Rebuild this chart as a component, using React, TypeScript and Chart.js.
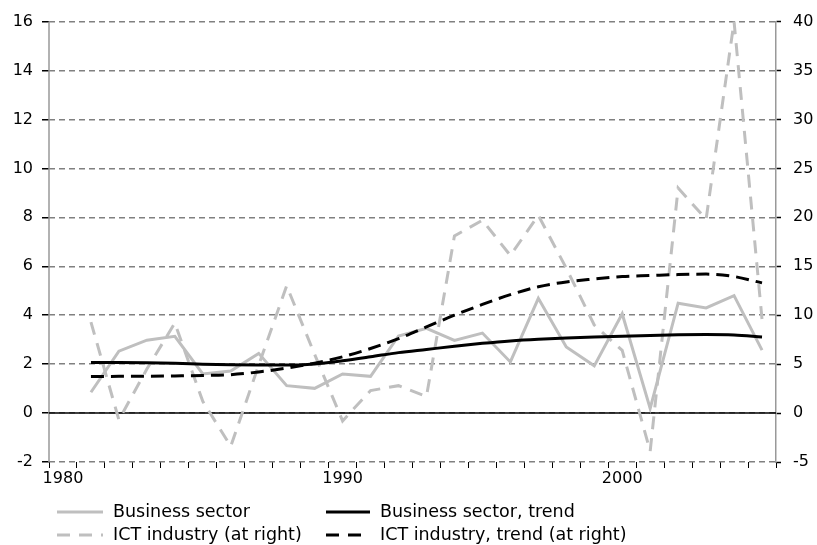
import React, { useEffect, useRef } from "react";
import { Chart, registerables } from "chart.js";

Chart.register(...registerables);

const years: string[] = [
  "1980","1981","1982","1983","1984","1985","1986","1987","1988","1989",
  "1990","1991","1992","1993","1994","1995","1996","1997","1998","1999",
  "2000","2001","2002","2003","2004","2005",
];

const businessSector: (number | null)[] = [
  null, 0.85, 2.53, 2.98, 3.14, 1.6, 1.72, 2.44, 1.12, 1.01,
  1.6, 1.5, 3.15, 3.46, 2.97, 3.27, 2.09, 4.69, 2.7, 1.93,
  4.06, 0.19, 4.49, 4.3, 4.8, 2.57,
];

const businessTrend: (number | null)[] = [
  null, 2.07, 2.07, 2.06, 2.04, 2.0, 1.97, 1.96, 1.96, 2.01,
  2.14, 2.3, 2.47, 2.6, 2.73, 2.85, 2.95, 3.02, 3.07, 3.11,
  3.14, 3.17, 3.2, 3.21, 3.19, 3.11,
];

const ictIndustry: (number | null)[] = [
  null, 9.3, -0.7, 4.5, 9.2, 1.2, -3.4, 4.9, 13.0, 6.0,
  -0.8, 2.3, 2.8, 1.7, 18.1, 19.7, 16.1, 20.2, 14.8, 9.0,
  6.4, -3.9, 23.0, 19.8, 40.0, 9.6,
];

const ictTrend: (number | null)[] = [
  null, 3.74, 3.75, 3.77, 3.8, 3.84, 3.92, 4.2, 4.6, 5.1,
  5.75, 6.6, 7.6, 8.8, 10.0, 11.1, 12.1, 12.9, 13.4, 13.7,
  13.95, 14.05, 14.15, 14.2, 13.95, 13.3,
];

const seriesLabels = [
  "Business sector",
  "Business sector, trend",
  "ICT industry (at right)",
  "ICT industry, trend (at right)",
];

const GRAY = "#BFBFBF";
const FONT = '"DejaVu Sans", Verdana, sans-serif';

export default function App() {
  const ref = useRef<HTMLCanvasElement | null>(null);

  useEffect(() => {
    if (!ref.current) return;

    const axisLines = {
      id: "axisLines",
      beforeDatasetsDraw(chart: any) {
        const { ctx, chartArea } = chart;
        const y = chart.scales.y.getPixelForValue(0);
        ctx.save();
        ctx.setLineDash([]);
        // left axis line (solid gray)
        ctx.strokeStyle = "#999";
        ctx.lineWidth = 1.5;
        ctx.beginPath();
        ctx.moveTo(chartArea.left, chartArea.top);
        ctx.lineTo(chartArea.left, chartArea.bottom);
        ctx.stroke();
        // zero line
        ctx.strokeStyle = "#000";
        ctx.lineWidth = 1.5;
        ctx.beginPath();
        ctx.moveTo(chartArea.left, y);
        ctx.lineTo(chartArea.right, y);
        ctx.stroke();
        ctx.restore();
      },
    };

    const customLegend = {
      id: "customLegend",
      afterDraw(chart: any) {
        const { ctx } = chart;
        const items = [
          { x1: 57, x2: 103, tx: 113, y: 512, color: GRAY, dash: [] as number[] },
          { x1: 326, x2: 370, tx: 380, y: 512, color: "#000", dash: [] as number[] },
          { x1: 57, x2: 103, tx: 113, y: 535, color: GRAY, dash: [13, 9] },
          { x1: 326, x2: 370, tx: 380, y: 535, color: "#000", dash: [13, 9] },
        ];
        ctx.save();
        items.forEach((it, i) => {
          ctx.strokeStyle = it.color;
          ctx.lineWidth = 3;
          ctx.setLineDash(it.dash);
          ctx.beginPath();
          ctx.moveTo(it.x1, it.y);
          ctx.lineTo(it.x2, it.y);
          ctx.stroke();
          ctx.setLineDash([]);
          ctx.fillStyle = "#000";
          ctx.font = `17.5px ${FONT}`;
          ctx.textBaseline = "middle";
          ctx.textAlign = "left";
          ctx.fillText(seriesLabels[i], it.tx, it.y);
        });
        ctx.restore();
      },
    };

    const chart = new Chart(ref.current, {
      type: "line",
      data: {
        labels: years,
        datasets: [
          {
            label: seriesLabels[0],
            data: businessSector,
            borderColor: GRAY,
            borderWidth: 3,
            pointRadius: 0,
            yAxisID: "y",
            order: 2,
          },
          {
            label: seriesLabels[1],
            data: businessTrend,
            borderColor: "#000",
            borderWidth: 3,
            pointRadius: 0,
            cubicInterpolationMode: "monotone",
            yAxisID: "y",
            order: 0,
          },
          {
            label: seriesLabels[2],
            data: ictIndustry,
            borderColor: GRAY,
            borderWidth: 3,
            borderDash: [13, 9],
            pointRadius: 0,
            yAxisID: "y1",
            order: 1,
          },
          {
            label: seriesLabels[3],
            data: ictTrend,
            borderColor: "#000",
            borderWidth: 3,
            borderDash: [13, 7],
            pointRadius: 0,
            cubicInterpolationMode: "monotone",
            yAxisID: "y1",
            order: 0,
          },
        ],
      },
      options: {
        animation: false,
        responsive: false,
        layout: { padding: { top: 20, left: 0, right: 0, bottom: 53 } },
        plugins: {
          legend: { display: false },
          tooltip: { enabled: false },
        },
        scales: {
          x: {
            type: "category",
            offset: true,
            grid: {
              offset: true,
              drawOnChartArea: false,
              drawTicks: true,
              tickLength: 6,
              tickColor: "#000",
              tickWidth: 1,
            },
            border: { display: false },
            ticks: {
              autoSkip: false,
              maxRotation: 0,
              padding: 1,
              color: "#000",
              font: { family: FONT, size: 16 },
              callback: function (this: any, value: any) {
                const lab = this.getLabelForValue(value);
                return Number(lab) % 10 === 0 ? lab : "";
              },
            },
            afterFit: (s: any) => {
              s.height = 30;
            },
          },
          y: {
            position: "left",
            min: -2,
            max: 16,
            grid: {
              color: "#808080",
              lineWidth: 1.5,
              drawTicks: true,
              tickLength: 7,
              tickColor: "#000",
              tickWidth: 1.5,
              tickBorderDash: [],
            },
            border: { display: false, dash: [6, 4] },
            ticks: {
              stepSize: 2,
              padding: 9,
              color: "#000",
              font: { family: FONT, size: 16 },
            },
            afterFit: (s: any) => {
              s.width = 49;
            },
          },
          y1: {
            position: "right",
            min: -5,
            max: 40,
            grid: {
              drawOnChartArea: false,
              drawTicks: true,
              tickLength: 5,
              tickColor: "#000",
              tickWidth: 1.5,
            },
            border: { display: true, color: "#999", width: 1.5 },
            ticks: {
              stepSize: 5,
              padding: 12,
              color: "#000",
              font: { family: FONT, size: 16 },
            },
            afterFit: (s: any) => {
              s.width = 41;
            },
          },
        },
      },
      plugins: [axisLines, customLegend],
    });

    return () => chart.destroy();
  }, []);

  return (
    <div style={{ position: "absolute", left: 0, top: 0, width: 817, height: 545, background: "#fff" }}>
      <canvas ref={ref} width={817} height={545} style={{ display: "block" }} />
    </div>
  );
}
